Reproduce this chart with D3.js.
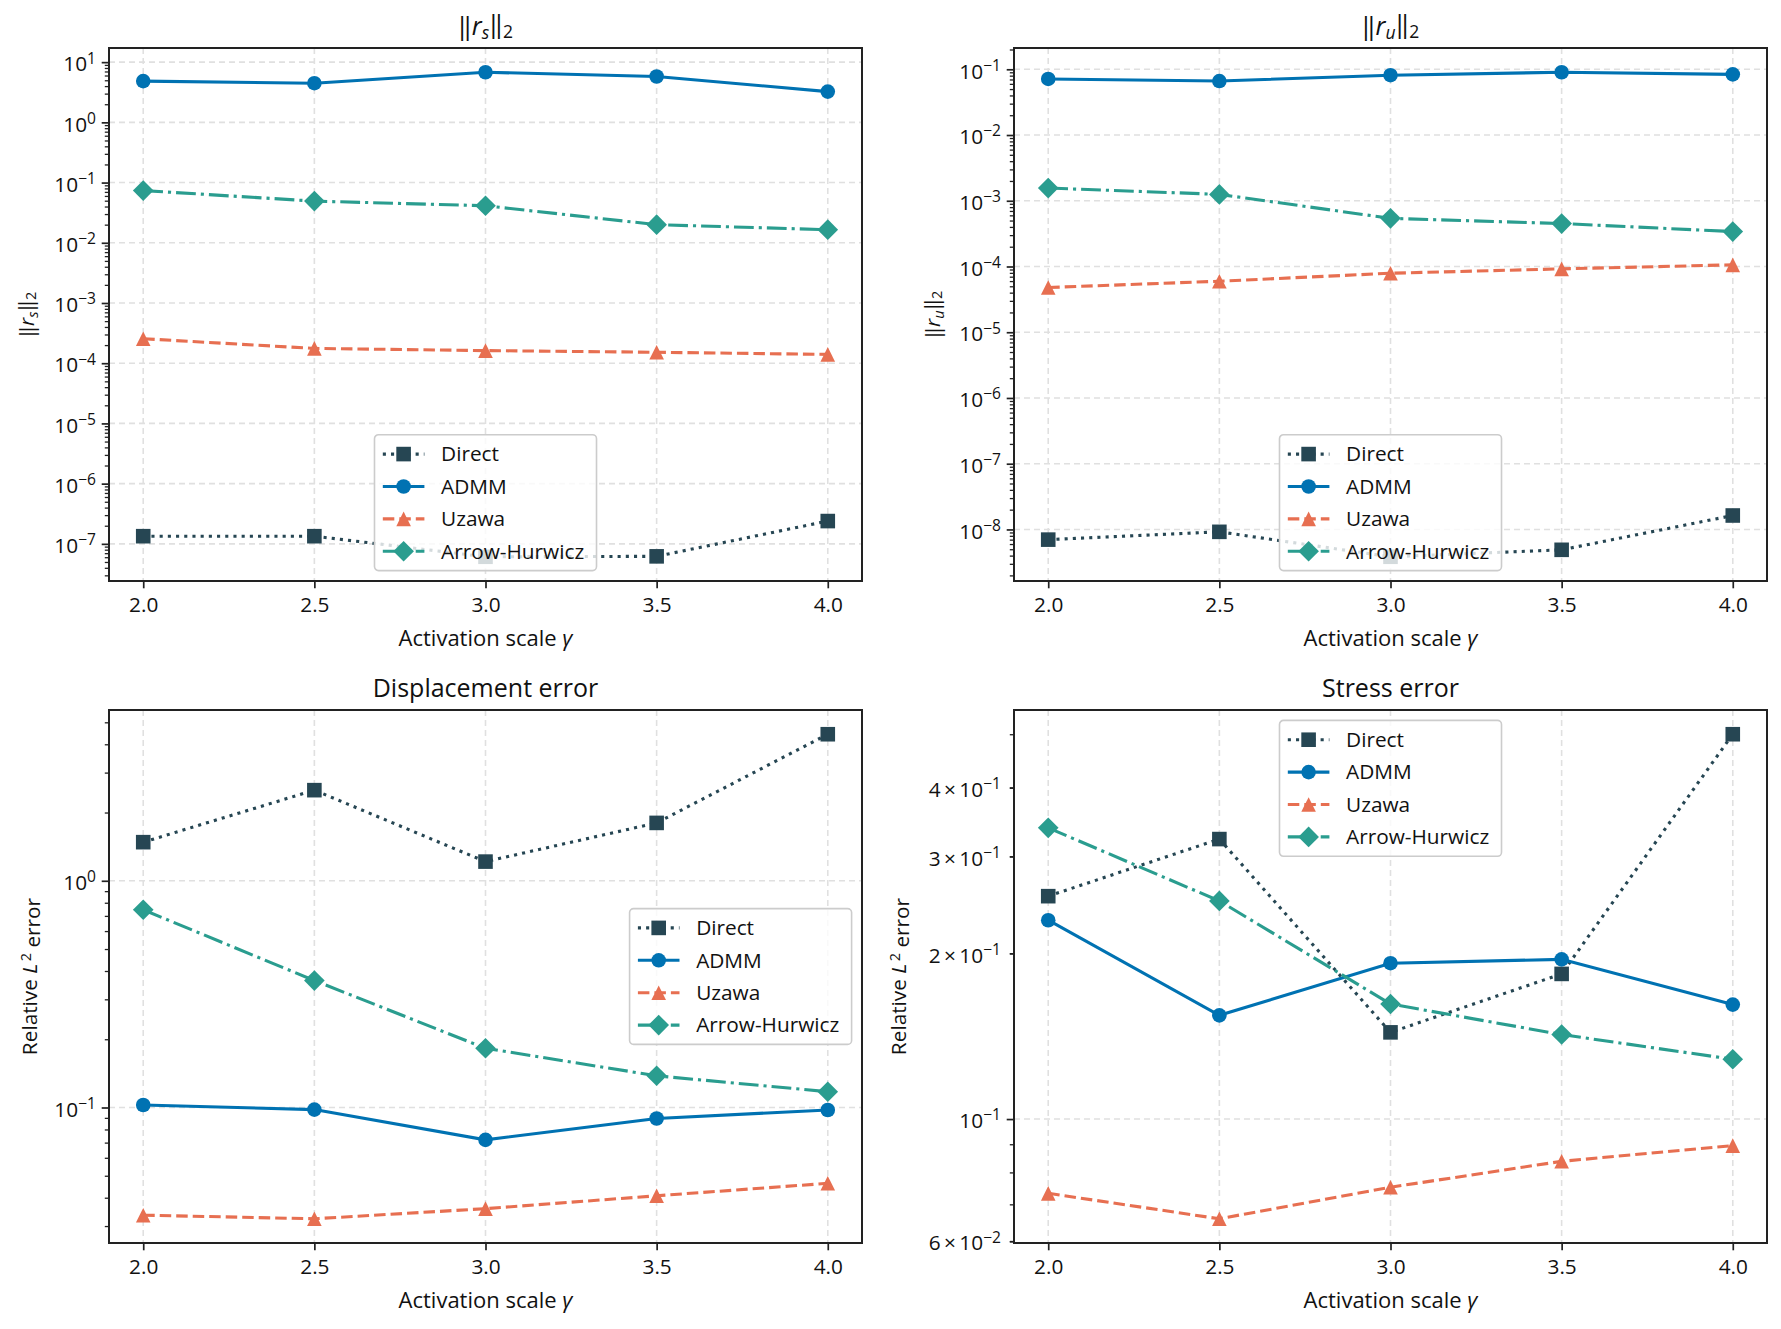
<!DOCTYPE html>
<html>
<head>
<meta charset="utf-8">
<script src="https://cdn.jsdelivr.net/npm/d3@7"></script>
<style>
  body { margin: 0; background: #fff; }
  svg { display: block; }
  text { font-family: "Open Sans", "Noto Sans", sans-serif; fill: #111; }
</style>
</head>
<body>
<div id="chart"></div>
<script>
// data
var gammas = [2.0, 2.5, 3.0, 3.5, 4.0];
var xTicks = [2.0, 2.5, 3.0, 3.5, 4.0];
var methods = ["Direct", "ADMM", "Uzawa", "Arrow-Hurwicz"];

// ||r_s||_2
var rsDirect = [1.34e-7, 1.34e-7, 6.1e-8, 6.2e-8, 2.39e-7];
var rsADMM   = [4.84, 4.47, 6.8, 5.78, 3.24];
var rsUzawa  = [2.55e-4, 1.76e-4, 1.62e-4, 1.52e-4, 1.40e-4];
var rsArrow  = [0.0736, 0.0492, 0.0412, 0.0200, 0.0165];

// ||r_u||_2
var ruDirect = [7.0e-9, 9.2e-9, 3.84e-9, 4.9e-9, 1.63e-8];
var ruADMM   = [0.0713, 0.0662, 0.0813, 0.0902, 0.0837];
var ruUzawa  = [4.79e-5, 5.97e-5, 7.9e-5, 9.2e-5, 1.06e-4];
var ruArrow  = [1.56e-3, 1.25e-3, 5.4e-4, 4.5e-4, 3.4e-4];

// displacement error
var dispDirect = [1.48, 2.51, 1.215, 1.80, 4.43];
var dispADMM   = [0.1026, 0.0979, 0.0720, 0.0894, 0.0975];
var dispUzawa  = [0.0335, 0.0323, 0.0358, 0.0408, 0.0463];
var dispArrow  = [0.745, 0.363, 0.1825, 0.138, 0.1174];

// stress error
var stressDirect = [0.254, 0.3225, 0.1437, 0.1835, 0.500];
var stressADMM   = [0.2297, 0.1543, 0.1919, 0.195, 0.1614];
var stressUzawa  = [0.0733, 0.0659, 0.0752, 0.0838, 0.0895];
var stressArrow  = [0.338, 0.249, 0.1618, 0.1424, 0.1284];

// y tick labels per panel
var rsTicks = [1e-7, 1e-6, 1e-5, 1e-4, 1e-3, 1e-2, 1e-1, 1e0, 1e1];
var ruTicks = [1e-8, 1e-7, 1e-6, 1e-5, 1e-4, 1e-3, 1e-2, 1e-1];
var dispTicks = [1e-1, 1e0];
var stressTicks = [6e-2, 1e-1, 2e-1, 3e-1, 4e-1];

// styles
var colors = { "Direct": "#264653", "ADMM": "#0072B2", "Uzawa": "#E76F51", "Arrow-Hurwicz": "#2A9D8F" };
var lw = 3.1;
var dashes = { "Direct": "3.1,5.1", "ADMM": null, "Uzawa": "11.5,5", "Arrow-Hurwicz": "19.8,5,3.1,5" };
var ms = 14.6;
var fs = 20.8;

var W = 1781, H = 1329;
var svg = d3.select("#chart").append("svg").attr("width", W).attr("height", H);

var panels = [
  { box: [109, 862, 48, 581], series: [rsDirect, rsADMM, rsUzawa, rsArrow], ticks: rsTicks,
    title: "rs", ylab: "rs", ylx: -82, legend: "lower" },
  { box: [1014, 1767, 48, 581], series: [ruDirect, ruADMM, ruUzawa, ruArrow], ticks: ruTicks,
    title: "ru", ylab: "ru", ylx: -81, legend: "lower" },
  { box: [109, 862, 710, 1243], series: [dispDirect, dispADMM, dispUzawa, dispArrow], ticks: dispTicks,
    title: "Displacement error", ylab: "rel", ylx: -79, legend: "right" },
  { box: [1014, 1767, 710, 1243], series: [stressDirect, stressADMM, stressUzawa, stressArrow], ticks: stressTicks,
    title: "Stress error", ylab: "rel", ylx: -115, legend: "upper" }
];

function markerPath(m) {
  var s = ms;
  if (m === "Direct") return "M" + (-s/2) + "," + (-s/2) + "h" + s + "v" + s + "h" + (-s) + "Z";
  if (m === "ADMM") return d3.symbol(d3.symbolCircle, Math.PI * s * s / 4)();
  if (m === "Uzawa") return "M0," + (-s/2) + "L" + (s/2) + "," + (s/2) + "L" + (-s/2) + "," + (s/2) + "Z";
  var d = s * Math.SQRT2 / 2;
  return "M0," + (-d) + "L" + d + ",0L0," + d + "L" + (-d) + ",0Z";
}

// "‖r_s‖₂" style math label
function normLabel(sel, sub) {
  sel.append("tspan").text("\u2016");
  sel.append("tspan").attr("font-style", "italic").text("r");
  sel.append("tspan").attr("font-size", "0.7em").attr("font-style", "italic").attr("dy", "0.25em").text(sub);
  sel.append("tspan").attr("dy", "-0.25em").text("\u2016");
  sel.append("tspan").attr("font-size", "0.7em").attr("dy", "0.25em").text("2");
}

function relLabel(sel) {
  sel.append("tspan").text("Relative ");
  sel.append("tspan").attr("font-style", "italic").text("L");
  sel.append("tspan").attr("font-size", "0.7em").attr("dy", "-0.45em").text("\u20092");
  sel.append("tspan").attr("dy", "0.45em").text(" error");
}

function tickLabel(sel, v) {
  var e = Math.floor(Math.log10(v) + 1e-9);
  var m = Math.round(v / Math.pow(10, e));
  var ex = (e < 0 ? "\u2212" : "") + Math.abs(e);
  sel.text(null);
  sel.append("tspan").text(m === 1 ? "10" : m + "\u2009\u00d7\u200910");
  sel.append("tspan").attr("font-size", "0.75em").attr("dy", "-0.5em").text(ex);
}

panels.forEach(function(p) {
  var x0 = p.box[0], x1 = p.box[1], y0 = p.box[2], y1 = p.box[3];
  var g = svg.append("g");

  // matplotlib style autoscale: 5% margin in log space
  var all = [].concat.apply([], p.series);
  var lo = Math.log10(d3.min(all)), hi = Math.log10(d3.max(all));
  var pad = (hi - lo) * 0.05;
  var x = d3.scaleLinear().domain([1.9, 4.1]).range([x0, x1]);
  var y = d3.scaleLog().domain([Math.pow(10, lo - pad), Math.pow(10, hi + pad)]).range([y1, y0]);

  // decades and minor ticks
  var decades = [], minors = [];
  for (var e = Math.floor(lo - pad) - 1; e <= Math.ceil(hi + pad) + 1; e++) {
    var dv = Math.pow(10, e);
    if (dv >= y.domain()[0] && dv <= y.domain()[1]) decades.push(dv);
    for (var k = 2; k <= 9; k++) {
      var mv = k * dv;
      if (mv >= y.domain()[0] && mv <= y.domain()[1]) minors.push(mv);
    }
  }

  // grid
  var grid = g.append("g").attr("stroke", "#e0e0e0").attr("stroke-width", 1.6).attr("stroke-dasharray", "6,4");
  grid.selectAll("line.gx").data(xTicks).enter().append("line")
    .attr("x1", function(d) { return x(d); }).attr("x2", function(d) { return x(d); })
    .attr("y1", y0).attr("y2", y1);
  grid.selectAll("line.gy").data(decades).enter().append("line")
    .attr("x1", x0).attr("x2", x1)
    .attr("y1", function(d) { return y(d); }).attr("y2", function(d) { return y(d); });

  // series
  methods.forEach(function(m, i) {
    var pts = gammas.map(function(gm, j) { return [gm, p.series[i][j]]; });
    var line = d3.line().x(function(d) { return x(d[0]); }).y(function(d) { return y(d[1]); });
    g.append("path").datum(pts)
      .attr("d", line)
      .attr("fill", "none")
      .attr("stroke", colors[m])
      .attr("stroke-width", lw)
      .attr("stroke-dasharray", dashes[m]);
    g.selectAll("path.mk" + i).data(pts).enter().append("path")
      .attr("d", markerPath(m))
      .attr("transform", function(d) { return "translate(" + x(d[0]) + "," + y(d[1]) + ")"; })
      .attr("fill", colors[m]);
  });

  // frame
  g.append("rect").attr("x", x0).attr("y", y0).attr("width", x1 - x0).attr("height", y1 - y0)
    .attr("fill", "none").attr("stroke", "#222").attr("stroke-width", 2);

  // x axis
  var xa = g.append("g").attr("transform", "translate(0," + y1 + ")")
    .call(d3.axisBottom(x).tickValues(xTicks).tickFormat(d3.format(".1f")).tickSize(7.3).tickPadding(9));
  xa.select(".domain").remove();
  xa.selectAll("line").attr("stroke", "#222").attr("stroke-width", 1.7);
  xa.selectAll("text").attr("font-size", fs).attr("fill", "#111").attr("font-family", null);

  // y axis: minor then major
  var ym = g.append("g").attr("transform", "translate(" + x0 + ",0)")
    .call(d3.axisLeft(y).tickValues(minors).tickFormat("").tickSize(4.2));
  ym.select(".domain").remove();
  ym.selectAll("line").attr("stroke", "#222").attr("stroke-width", 1.3);

  var ya = g.append("g").attr("transform", "translate(" + x0 + ",0)")
    .call(d3.axisLeft(y).tickValues(p.ticks).tickFormat(d3.format("")).tickPadding(7).tickSizeOuter(0));
  ya.select(".domain").remove();
  ya.selectAll(".tick line").attr("stroke", "#222").attr("stroke-width", 1.7)
    .attr("x2", function(d) { return decades.indexOf(d) >= 0 ? -7.3 : -4.2; });
  ya.selectAll(".tick text").attr("font-size", fs).attr("fill", "#111").attr("font-family", null)
    .attr("x", -13).attr("dy", "0.42em")
    .each(function(d) { tickLabel(d3.select(this), d); });

  // title
  var t = g.append("text").attr("x", (x0 + x1) / 2).attr("y", y0 - 13)
    .attr("text-anchor", "middle").attr("font-size", 25);
  if (p.title === "rs") normLabel(t, "s");
  else if (p.title === "ru") normLabel(t, "u");
  else t.text(p.title);

  // x label
  var xl = g.append("text").attr("x", (x0 + x1) / 2).attr("y", y1 + 65)
    .attr("text-anchor", "middle").attr("font-size", 22);
  xl.append("tspan").text("Activation scale ");
  xl.append("tspan").attr("font-style", "italic").text("\u03b3");

  // y label
  var yl = g.append("text")
    .attr("transform", "translate(" + (x0 + p.ylx) + "," + ((y0 + y1) / 2) + ") rotate(-90)")
    .attr("text-anchor", "middle").attr("dy", "0.35em").attr("font-size", fs);
  if (p.ylab === "rs") normLabel(yl, "s");
  else if (p.ylab === "ru") normLabel(yl, "u");
  else relLabel(yl);

  // legend
  var bp = 0.4 * fs, rowH = 22, ls = 0.5 * fs, hl = 2 * fs, htp = 0.8 * fs;
  var lg = g.append("g");
  var frame = lg.append("rect").attr("rx", 4).attr("fill", "#fff").attr("fill-opacity", 0.8)
    .attr("stroke", "#ccc").attr("stroke-width", 1.6);
  var maxW = 0;
  var rows = lg.selectAll("g.row").data(methods).enter().append("g")
    .attr("transform", function(d, i) { return "translate(0," + (bp + rowH / 2 + i * (rowH + ls)) + ")"; });
  rows.append("line").attr("x1", bp).attr("x2", bp + hl).attr("y1", 0).attr("y2", 0)
    .attr("stroke", function(d) { return colors[d]; }).attr("stroke-width", lw)
    .attr("stroke-dasharray", function(d) { return dashes[d]; });
  rows.append("path").attr("d", function(d) { return markerPath(d); })
    .attr("transform", "translate(" + (bp + hl / 2) + ",0)")
    .attr("fill", function(d) { return colors[d]; });
  rows.append("text").attr("x", bp + hl + htp).attr("dy", "0.35em").attr("font-size", fs)
    .text(function(d) { return d; })
    .each(function() { maxW = Math.max(maxW, this.getComputedTextLength()); });
  var lw2 = bp * 2 + hl + htp + maxW + 4, lh = bp * 2 + 4 * rowH + 3 * ls;
  frame.attr("width", lw2).attr("height", lh);
  var bap = 10.4, lx, ly;
  if (p.legend === "lower") { lx = (x0 + x1) / 2 - lw2 / 2; ly = y1 - bap - lh; }
  else if (p.legend === "upper") { lx = (x0 + x1) / 2 - lw2 / 2; ly = y0 + bap; }
  else { lx = x1 - bap - lw2; ly = (y0 + y1) / 2 - lh / 2; }
  lg.attr("transform", "translate(" + lx + "," + ly + ")");
});
</script>
</body>
</html>
